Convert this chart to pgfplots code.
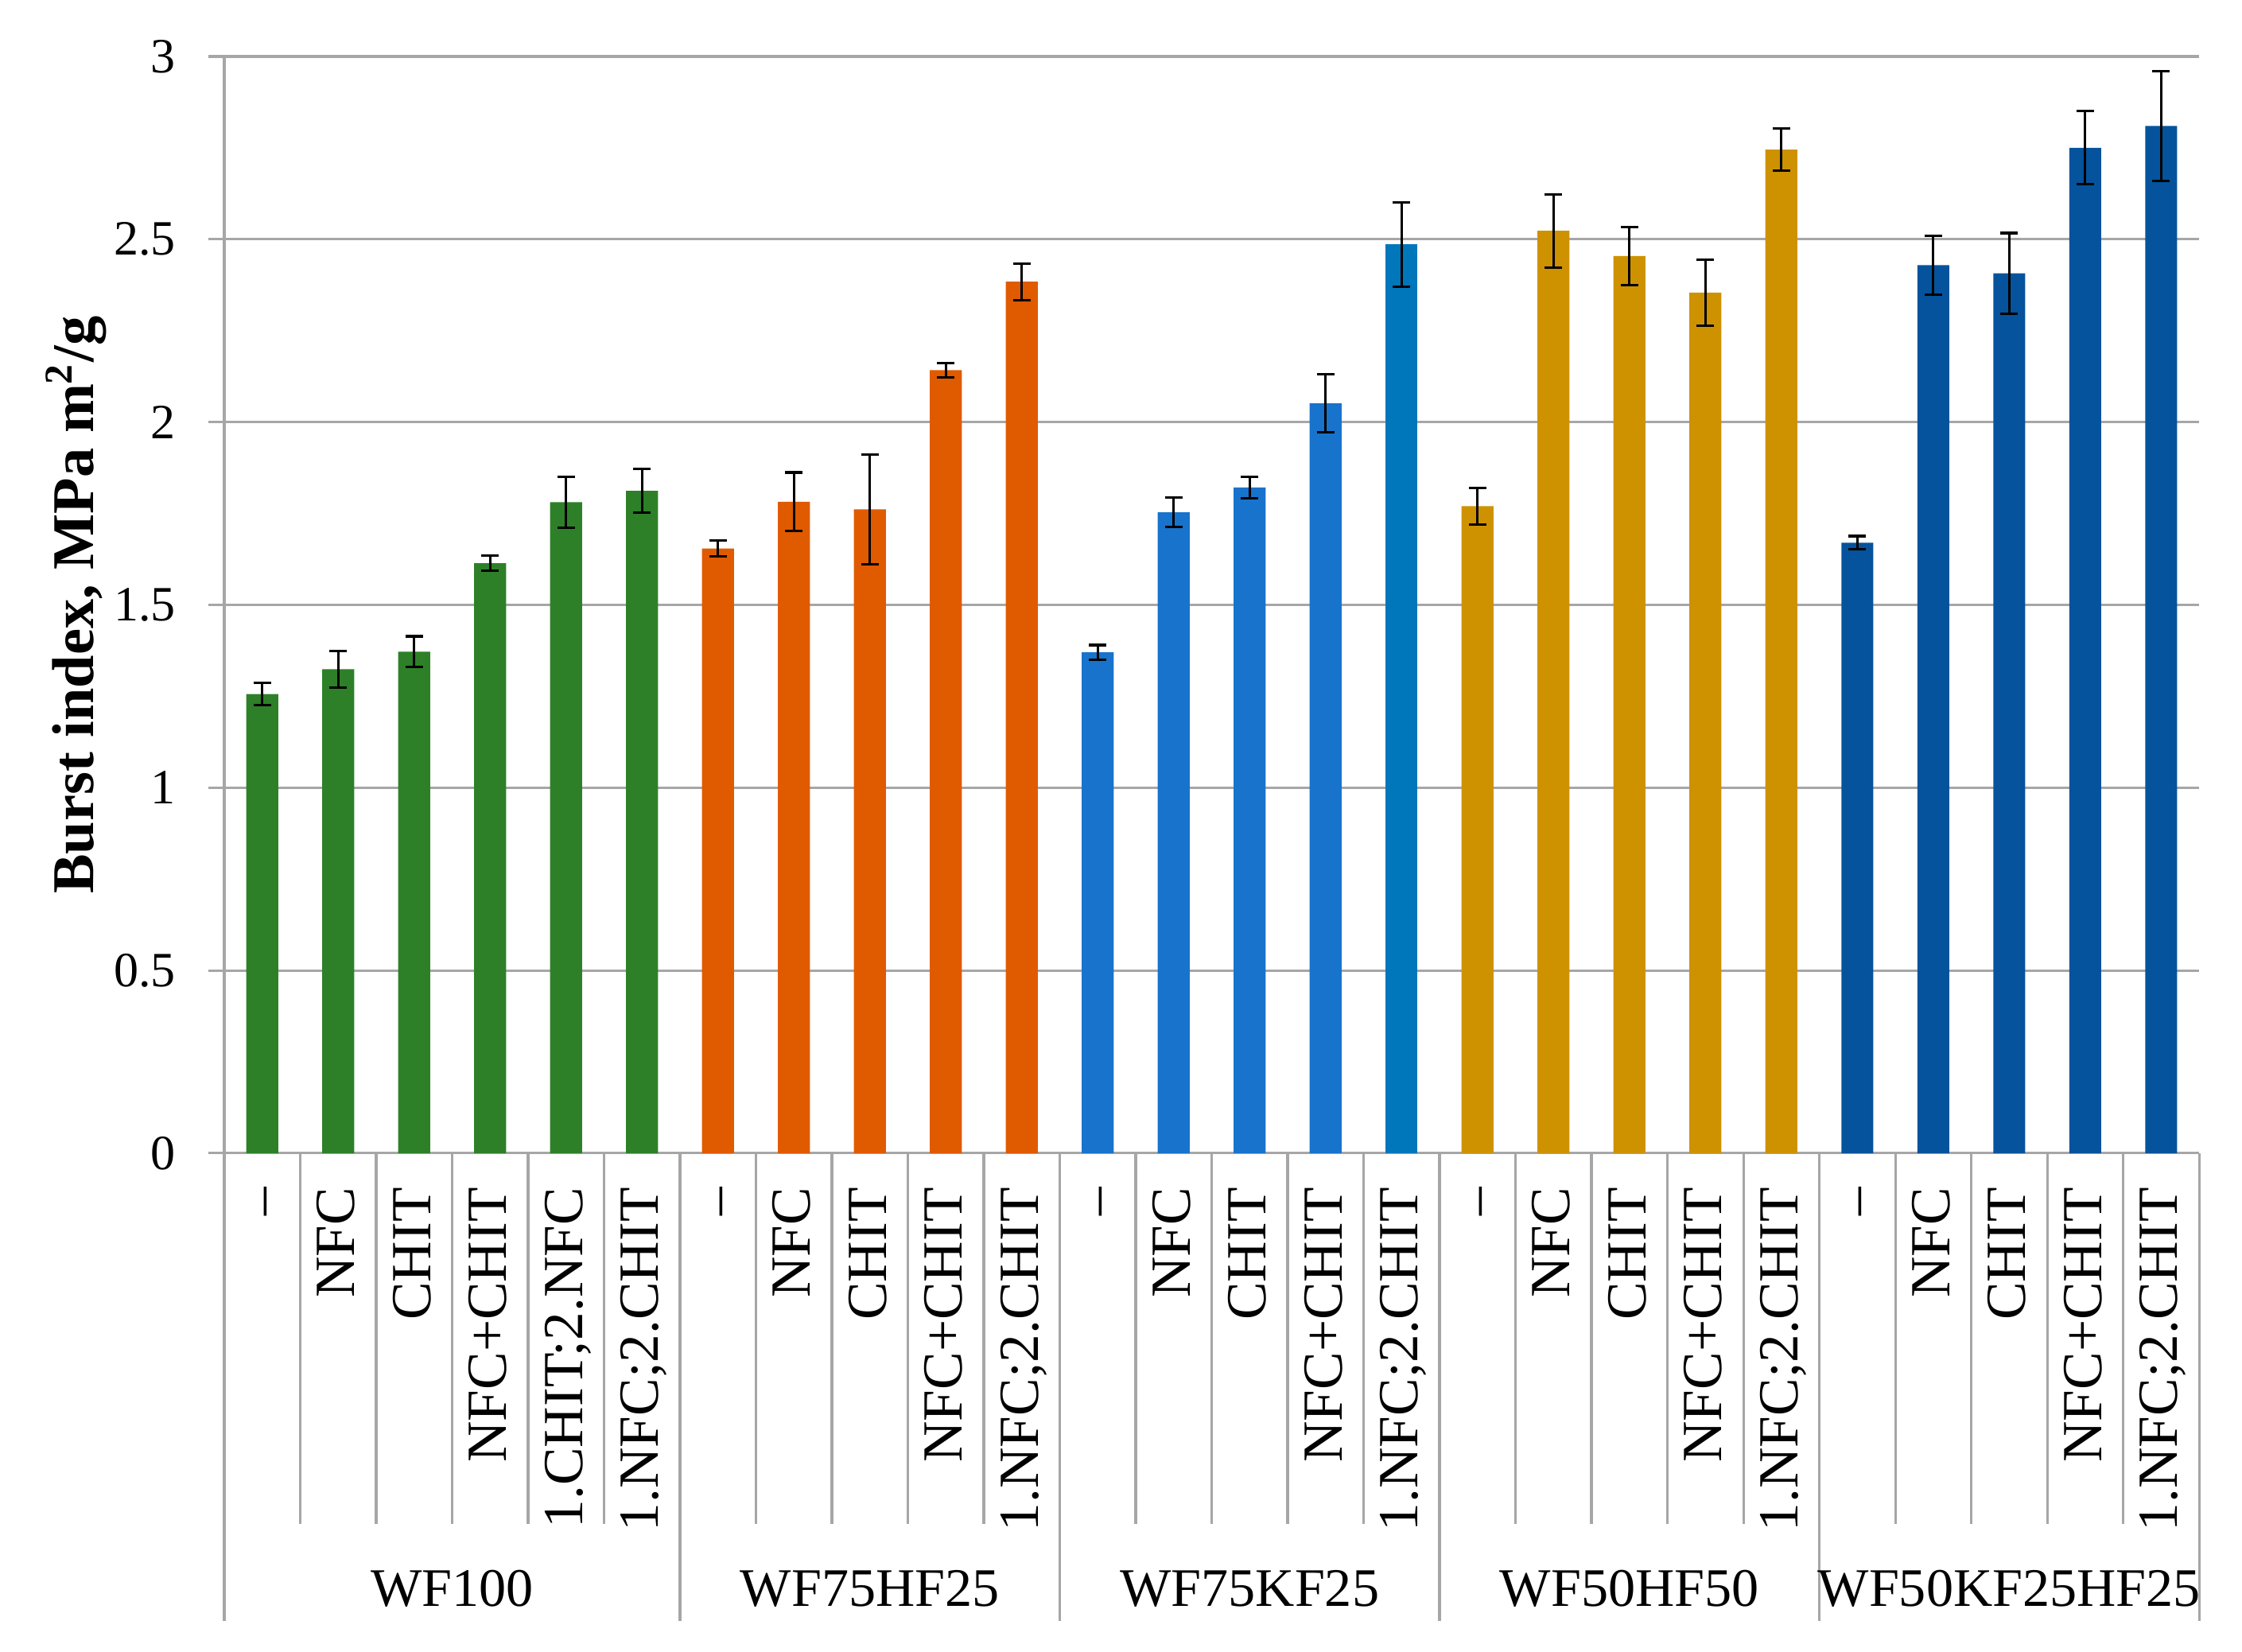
\documentclass[border=0pt]{standalone}
\usepackage{pgfplots}
\pgfplotsset{compat=1.18}
\usepackage{fontspec}
\setmainfont{Liberation Serif}
\definecolor{cgreen}{RGB}{46,128,40}
\definecolor{corange}{RGB}{224,90,0}
\definecolor{cblue}{RGB}{24,115,204}
\definecolor{cteal}{RGB}{0,118,187}
\definecolor{cgold}{RGB}{206,146,0}
\definecolor{cnavy}{RGB}{5,83,156}
\definecolor{gridgray}{RGB}{166,166,166}
\begin{document}
\begin{tikzpicture}
\path[use as bounding box] (-45.48pt,-101.0pt) rectangle (409.2pt,233.85pt);
\begin{axis}[
  scale only axis,
  width=400.5pt, height=222.4pt,
  xmin=-0.5, xmax=25.5,
  ymin=0, ymax=3,
  clip=false,
  axis x line*=bottom,
  axis y line*=left,
  axis line style={draw=gridgray, line width=0.5pt},
  ymajorgrids=true,
  y grid style={draw=gridgray, line width=0.5pt},
  ytick={0,0.5,1,1.5,2,2.5,3},
  yticklabels={0,0.5,1,1.5,2,2.5,3},
  ytick align=outside,
  major tick length=3.2pt,
  ytick style={draw=gridgray, line width=0.5pt},
  xtick style={draw=none},
  yticklabel style={font=\fontsize{10}{12}\selectfont, inner sep=0pt, xshift=-6.5pt},
  xtick={0,...,25},
  xticklabels={--,NFC,CHIT,NFC+CHIT,1.CHIT;2.NFC,1.NFC;2.CHIT,
               --,NFC,CHIT,NFC+CHIT,1.NFC;2.CHIT,
               --,NFC,CHIT,NFC+CHIT,1.NFC;2.CHIT,
               --,NFC,CHIT,NFC+CHIT,1.NFC;2.CHIT,
               --,NFC,CHIT,NFC+CHIT,1.NFC;2.CHIT},
  xticklabel style={font=\fontsize{11.5}{13}\selectfont, inner sep=0pt, yshift=-3.6pt, rotate=90, anchor=east, text height=0.66em, text depth=0pt},
  ylabel={\textbf{Burst index, MPa m\textsuperscript{2}/g}},
  ylabel style={font=\fontsize{12}{14}\selectfont, at={(axis description cs:-0.0664,0.5)}, anchor=base, rotate=0},
  ybar, bar width=0.42,
  error bars/y dir=both, error bars/y explicit,
  error bars/error bar style={black, line width=0.5pt},
  error bars/error mark options={black, rotate=90, mark size=1.8pt, line width=0.5pt},
]
\addplot[fill=cgreen, draw=none, bar shift=0pt] table[x=x, y=y, y error=e] {
x y e
0 1.256 0.030
1 1.324 0.050
2 1.372 0.042
3 1.614 0.020
4 1.781 0.070
5 1.812 0.060
};
\addplot[fill=corange, draw=none, bar shift=0pt] table[x=x, y=y, y error=e] {
x y e
6 1.654 0.022
7 1.782 0.080
8 1.761 0.150
9 2.142 0.020
10 2.384 0.050
};
\addplot[fill=cblue, draw=none, bar shift=0pt] table[x=x, y=y, y error=e] {
x y e
11 1.370 0.020
12 1.753 0.040
13 1.821 0.030
14 2.051 0.080
};
\addplot[fill=cteal, draw=none, bar shift=0pt] table[x=x, y=y, y error=e] {
x y e
15 2.486 0.115
};
\addplot[fill=cgold, draw=none, bar shift=0pt] table[x=x, y=y, y error=e] {
x y e
16 1.770 0.050
17 2.523 0.100
18 2.454 0.080
19 2.354 0.090
20 2.745 0.058
};
\addplot[fill=cnavy, draw=none, bar shift=0pt] table[x=x, y=y, y error=e] {
x y e
21 1.670 0.018
22 2.429 0.080
23 2.407 0.110
24 2.750 0.100
25 2.810 0.150
};
\pgfplotsinvokeforeach{0.5,1.5,2.5,3.5,4.5,6.5,7.5,8.5,9.5,11.5,12.5,13.5,14.5,16.5,17.5,18.5,19.5,21.5,22.5,23.5,24.5}{
  \draw[gridgray, line width=0.5pt] (axis cs:#1,0) -- ++(0pt,-75.2pt);
}
\pgfplotsinvokeforeach{-0.5,5.5,10.5,15.5,20.5,25.5}{
  \draw[gridgray, line width=0.5pt] (axis cs:#1,0) -- ++(0pt,-94.8pt);
}
\node[font=\fontsize{11}{13}\selectfont, anchor=base, yshift=-91.9pt] at (axis cs:2.5,0) {WF100};
\node[font=\fontsize{11}{13}\selectfont, anchor=base, yshift=-91.9pt] at (axis cs:8,0) {WF75HF25};
\node[font=\fontsize{11}{13}\selectfont, anchor=base, yshift=-91.9pt] at (axis cs:13,0) {WF75KF25};
\node[font=\fontsize{11}{13}\selectfont, anchor=base, yshift=-91.9pt] at (axis cs:18,0) {WF50HF50};
\node[font=\fontsize{11}{13}\selectfont, anchor=base, yshift=-91.9pt] at (axis cs:23,0) {WF50KF25HF25};
\end{axis}
\end{tikzpicture}
\end{document}
